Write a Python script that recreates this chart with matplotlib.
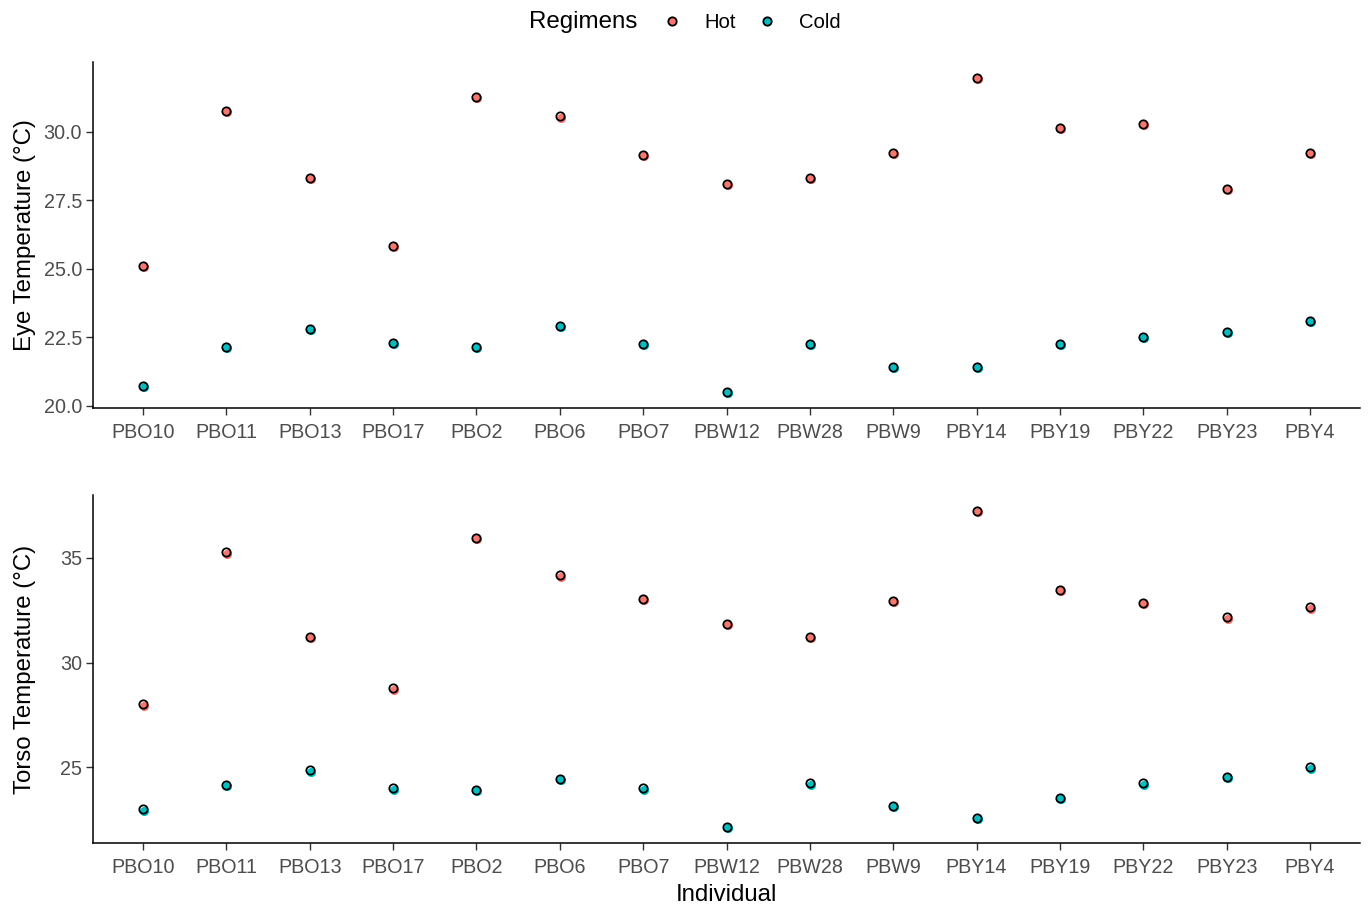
import matplotlib
matplotlib.use("Agg")
import matplotlib.pyplot as plt
import matplotlib.transforms as mtransforms
from matplotlib.lines import Line2D

plt.rcParams['font.family'] = ['Liberation Sans', 'DejaVu Sans']

individuals = ["PBO10", "PBO11", "PBO13", "PBO17", "PBO2", "PBO6", "PBO7", "PBW12",
               "PBW28", "PBW9", "PBY14", "PBY19", "PBY22", "PBY23", "PBY4"]

eye_hot = [25.12, 30.76, 28.33, 25.85, 31.26, 30.56, 29.15, 28.10, 28.33, 29.22,
           31.97, 30.13, 30.30, 27.93, 29.22]
eye_cold = [20.74, 22.14, 22.82, 22.30, 22.14, 22.93, 22.25, 20.50, 22.25, 21.42,
            21.42, 22.25, 22.53, 22.70, 23.10]

torso_hot = [28.01, 35.26, 31.23, 28.77, 35.93, 34.16, 33.02, 31.85, 31.23, 32.93,
             37.24, 33.46, 32.85, 32.16, 32.63]
torso_cold = [23.00, 24.16, 24.86, 24.00, 23.92, 24.46, 24.00, 22.15, 24.24, 23.15,
              22.61, 23.55, 24.24, 24.54, 25.00]

hot_color = "#F8766D"
cold_color = "#00BFC4"

fig = plt.figure(figsize=(13.7, 9.09), dpi=100)
ax1 = fig.add_axes([93/1370, 1-408/909, (1360-93)/1370, (408-62)/909])
ax2 = fig.add_axes([93/1370, 1-843/909, (1360-93)/1370, (843-495)/909])

x = list(range(len(individuals)))


def draw(ax, hot, cold, ylabel, yticks, ytl):
    off = mtransforms.offset_copy(ax.transData, fig=fig, x=1.0, y=-1.2, units='dots')
    for vals, col in ((hot, hot_color), (cold, cold_color)):
        ax.plot(x, vals, linestyle='none', marker='o', ms=6.6, mfc=col, mec=col,
                mew=0, transform=off, zorder=2)
        ax.plot(x, vals, linestyle='none', marker='o', ms=6.0, mfc='none', mec='black',
                mew=1.3, zorder=3)
    allv = list(hot) + list(cold)
    lo, hi = min(allv), max(allv)
    r = hi - lo
    ax.set_ylim(lo - 0.05 * r, hi + 0.05 * r)
    ax.set_xlim(-0.6, len(individuals) - 1 + 0.6)
    ax.set_xticks(x)
    ax.set_xticklabels(individuals)
    ax.set_yticks(yticks)
    ax.set_yticklabels(ytl)
    for s in ('top', 'right'):
        ax.spines[s].set_visible(False)
    for s in ('left', 'bottom'):
        ax.spines[s].set_linewidth(1.1)
        ax.spines[s].set_color('black')
    ax.tick_params(axis='both', colors='#333333', length=5, width=1.0,
                   labelsize=14.2, labelcolor='#4D4D4D', pad=3)
    ax.tick_params(axis='x', pad=5.5)
    ax.set_ylabel(ylabel, fontsize=17.3, color='black')


draw(ax1, eye_hot, eye_cold, "Eye Temperature (\u00b0C)",
     [20.0, 22.5, 25.0, 27.5, 30.0], ["20.0", "22.5", "25.0", "27.5", "30.0"])
draw(ax2, torso_hot, torso_cold, "Torso Temperature (\u00b0C)",
     [25, 30, 35], ["25", "30", "35"])
ax2.set_xlabel("Individual", fontsize=17.3, color='black', labelpad=5)
ax1.yaxis.set_label_coords(-0.045, 0.5)
ax2.yaxis.set_label_coords(-0.045, 0.5)

# legend
handles = [Line2D([], [], linestyle='none', marker='o', ms=6.0, mfc=hot_color,
                  mec='black', mew=1.3),
           Line2D([], [], linestyle='none', marker='o', ms=6.0, mfc=cold_color,
                  mec='black', mew=1.3)]
leg = fig.legend(handles, ["Hot", "Cold"], ncol=2, loc='center left',
                 bbox_to_anchor=(662/1370, 1-23/909), frameon=False, fontsize=14.6,
                 handlelength=1.0, handletextpad=1.1, columnspacing=1.0,
                 borderpad=0, borderaxespad=0)
fig.text(529/1370, 1-22/909, "Regimens", fontsize=17.4, ha='left', va='center')

fig.savefig("out.png", dpi=100)
